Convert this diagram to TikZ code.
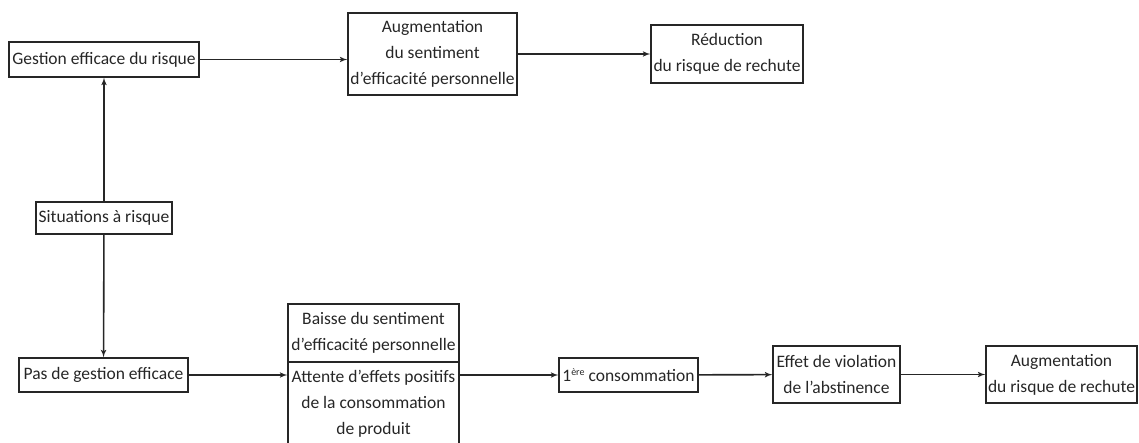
\documentclass[tikz,border=0pt]{standalone}
\usepackage{fontspec}
\setmainfont{Carlito}
\usetikzlibrary{shapes,arrows}

\begin{document}
\begin{tikzpicture}[x=1pt, y=-1pt, >=latex', line width=1.3pt, black!85]
  \tikzstyle{box} = [draw, rectangle, align=center, inner sep=2pt,
    font=\fontsize{17.5}{26}\selectfont]
  \tikzstyle{link} = [->, line width=1.6pt]
  \useasboundingbox (0,0) rectangle (1139,443);
  \node[box, minimum width=190, minimum height=35] (gestion) at (104,59.5) {Gestion efficace du risque};
  \node[box, minimum width=169, minimum height=82] (augm) at (432.5,54) {Augmentation\\du sentiment\\d’efficacité personnelle};
  \node[box, minimum width=152, minimum height=58] (reduc) at (727,54) {Réduction\\du risque de rechute};
  \node[box, minimum width=136, minimum height=32] (situ) at (104,218) {Situations à risque};
  \node[box, minimum width=169, minimum height=34] (pas) at (103.5,375) {Pas de gestion efficace};
  \node[box, minimum width=171, minimum height=58] (baisse) at (373.5,333) {Baisse du sentiment\\d’efficacité personnelle};
  \node[box, minimum width=171, minimum height=84] (attente) at (373.5,404) {Attente d’effets positifs\\de la consommation\\de produit};
  \node[box, minimum width=139, minimum height=34] (prem) at (628.5,375) {1\raisebox{0.75ex}{\fontsize{10}{10}\selectfont ère} consommation};
  \node[box, minimum width=127, minimum height=57] (effet) at (836.5,374.5) {Effet de violation\\de l’abstinence};
  \node[box, minimum width=151, minimum height=57] (augm2) at (1061.5,374.5) {Augmentation\\du risque de rechute};
  \draw[link] (situ) -- (gestion);
  \draw[link] (situ) -- (pas);
  \draw[link] (gestion.east) -- (gestion.east -| augm.west);
  \draw[link] (augm) -- (reduc);
  \draw[link] (pas.east) -- (pas.east -| attente.west);
  \draw[link] (prem.west -| attente.east) -- (prem);
  \draw[link] (prem) -- (effet);
  \draw[link] (effet) -- (augm2);
\end{tikzpicture}
\end{document}
